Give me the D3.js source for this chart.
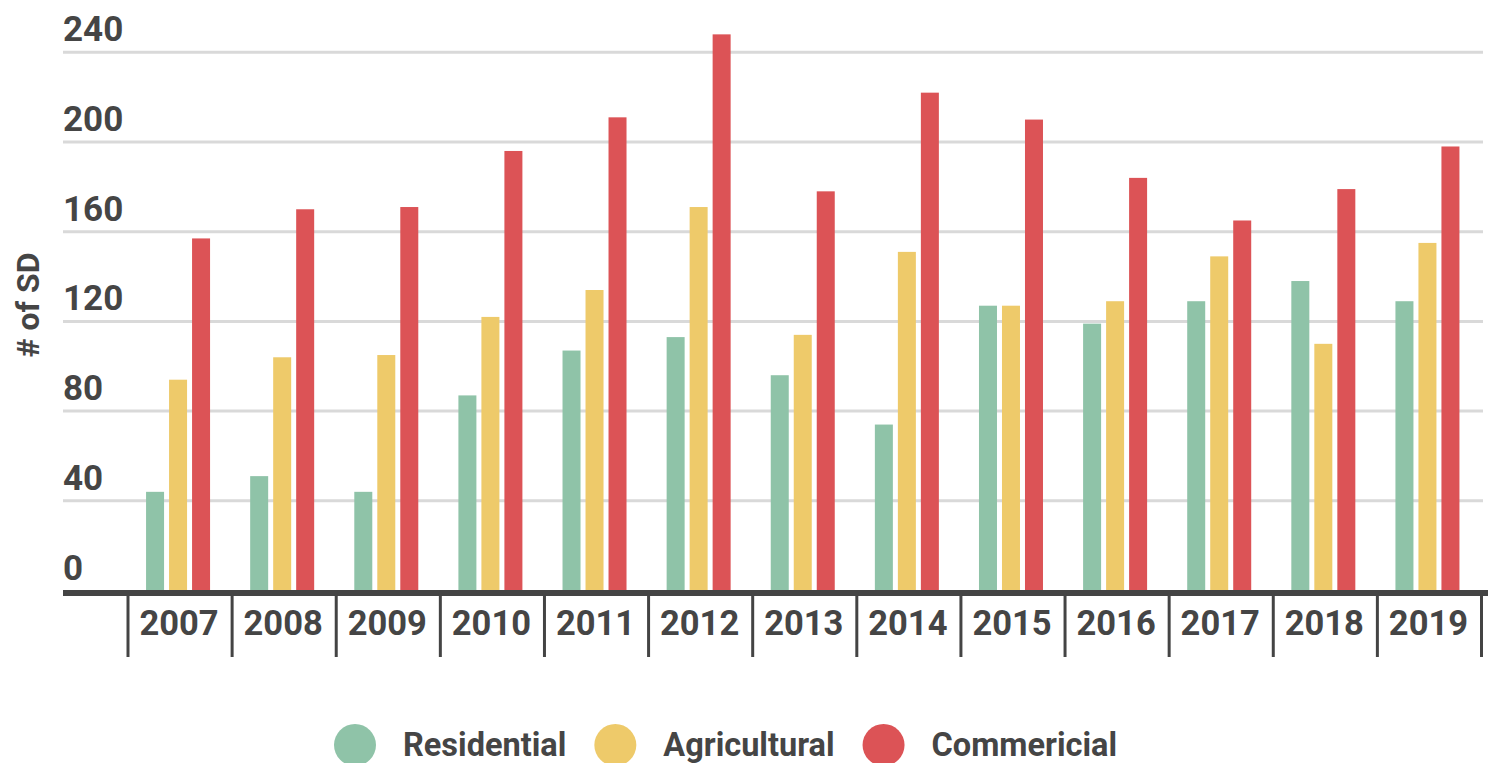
<!DOCTYPE html>
<html>
<head>
<meta charset="utf-8">
<script src="https://cdn.jsdelivr.net/npm/d3@7"></script>
<style>
  html, body { margin: 0; padding: 0; background: #fff; }
  svg { display: block; font-family: Roboto, "Noto Sans", sans-serif; font-weight: 700; }
</style>
</head>
<body>
<svg id="chart" width="1494" height="763"></svg>
<script>
// Number of SDs per year, by land use
const years = ["2007","2008","2009","2010","2011","2012","2013","2014","2015","2016","2017","2018","2019"];
const seriesNames = ["Residential","Agricultural","Commericial"];
const residential  = [44, 51, 44, 87, 107, 113, 96, 74, 127, 119, 129, 138, 129];
const agricultural = [94, 104, 105, 122, 134, 171, 114, 151, 127, 129, 149, 110, 155];
const commercial   = [157, 170, 171, 196, 211, 248, 178, 222, 210, 184, 165, 179, 198];
const yTicks = [0, 40, 80, 120, 160, 200, 240];
const colors = ["#8fc3a8", "#eeca6a", "#dc5356"];

const seriesValues = [residential, agricultural, commercial];
const rows = years.map((yr, i) => ({
  year: yr,
  values: seriesNames.map((s, k) => ({ key: s, value: seriesValues[k][i], color: colors[k] }))
}));

const svg = d3.select("#chart");
const textColor = "#454545";

const plotLeft = 63, plotRight = 1483;
const y = d3.scaleLinear().domain([0, 240]).range([590.5, 52.3]);
const x = d3.scaleBand().domain(years).range([128, 1481.5]).padding(0);
const inner = d3.scaleBand().domain(seriesNames).range([0, 64]).paddingInner(5 / 23).paddingOuter(0);
const groupOffset = (x.bandwidth() - 64) / 2 - 2;

// horizontal gridlines
svg.append("g")
  .selectAll("line")
  .data(yTicks.filter(d => d > 0))
  .join("line")
  .attr("x1", plotLeft).attr("x2", plotRight)
  .attr("y1", d => y(d)).attr("y2", d => y(d))
  .attr("stroke", "#d9d9d9").attr("stroke-width", 3);

// y tick labels sit above their gridlines
svg.append("g")
  .selectAll("text")
  .data(yTicks)
  .join("text")
  .attr("x", plotLeft)
  .attr("y", d => y(d) - 11)
  .attr("fill", textColor)
  .attr("font-size", 35)
  .text(d => d);

// y axis title
svg.append("text")
  .attr("transform", "translate(39,305) rotate(-90)")
  .attr("text-anchor", "middle")
  .attr("fill", textColor)
  .attr("font-size", 32)
  .text("# of SD");

// bars
const groups = svg.append("g")
  .selectAll("g")
  .data(rows)
  .join("g")
  .attr("transform", d => `translate(${x(d.year) + groupOffset},0)`);

groups.selectAll("rect")
  .data(d => d.values)
  .join("rect")
  .attr("x", d => inner(d.key))
  .attr("width", inner.bandwidth())
  .attr("y", d => y(d.value))
  .attr("height", d => y(0) - y(d.value))
  .attr("fill", d => d.color);

// baseline
svg.append("line")
  .attr("x1", plotLeft).attr("x2", 1488)
  .attr("y1", 593).attr("y2", 593)
  .attr("stroke", "#444").attr("stroke-width", 6);

// category separators
const boundaries = years.map(d => x(d)).concat([x.range()[1]]);
svg.append("g")
  .selectAll("line")
  .data(boundaries)
  .join("line")
  .attr("x1", d => d).attr("x2", d => d)
  .attr("y1", 593).attr("y2", 657)
  .attr("stroke", "#444").attr("stroke-width", 3);

// category labels
svg.append("g")
  .selectAll("text")
  .data(years)
  .join("text")
  .attr("x", d => x(d) + x.bandwidth() / 2 - 1)
  .attr("y", 635)
  .attr("text-anchor", "middle")
  .attr("fill", textColor)
  .attr("font-size", 34.5)
  .text(d => d);

// legend
const legend = svg.append("g");
let lx = 355;
seriesNames.forEach((name, k) => {
  legend.append("circle")
    .attr("cx", lx).attr("cy", 745).attr("r", 21)
    .attr("fill", colors[k]);
  const t = legend.append("text")
    .attr("x", lx + 48)
    .attr("y", 756)
    .attr("fill", textColor)
    .attr("font-size", 32.5)
    .text(name);
  const w = t.node().getComputedTextLength();
  lx = lx + 48 + w + 49;
});
</script>
</body>
</html>
